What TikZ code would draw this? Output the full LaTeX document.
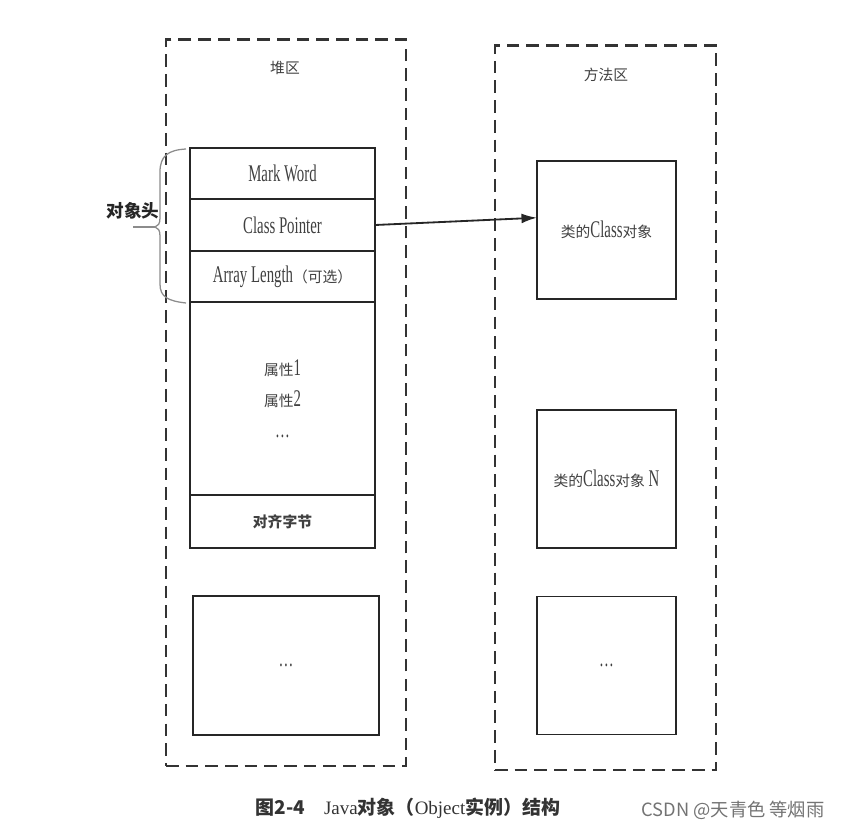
\documentclass[tikz,border=0pt]{standalone}
\usepackage{fontspec}
\setmainfont{Liberation Serif}
\newfontfamily\cjk{Noto Sans CJK SC}
\newfontfamily\narrow[FakeStretch=0.62]{Liberation Serif}
\usetikzlibrary{arrows.meta,positioning}
\newcommand{\zh}[1]{{\fontsize{10.5}{12}\cjk #1}}

\begin{document}
\begin{tikzpicture}[x=0.025cm,y=-0.025cm,
	zone/.style={draw=black!80,line width=2pt,dash pattern=on 9pt off 5pt},
	cell/.style={draw=black!85,line width=1.3pt,minimum width=4.625cm,outer sep=0pt,inner sep=0pt,font=\fontsize{17}{22}\narrow,text=black!75},
	klass/.style={cell,minimum width=3.475cm,minimum height=3.45cm},
	hint/.style={font=\fontsize{10.5}{12}\cjk,text=black!75}]
\useasboundingbox (0,0) rectangle (844,832);
% the two memory areas
\node[zone,minimum width=6cm,minimum height=18.15cm] (heap) at (286,403) {};
\node[zone,minimum width=5.525cm,minimum height=18.1cm] (method) at (605.5,408) {};
\node[hint] (heaplabel) at (285,68) {堆区};
\node[hint] (methodlabel) at (606,75) {方法区};
% object layout
\node[cell,minimum height=1.275cm] (mark) at (282.5,173.5) {Mark Word};
\node[cell,minimum height=1.3cm,below=0pt of mark] (ptr) {Class Pointer};
\node[cell,minimum height=1.275cm,below=0pt of ptr] (alen) {Array Length\zh{（可选）}};
\node[cell,minimum height=4.825cm,below=0pt of alen,align=center] (fields) {\zh{属性}1\\\zh{属性}2\\\ldots};
\node[cell,minimum height=1.325cm,below=0pt of fields,font=\fontsize{10.5}{12}\cjk\bfseries] (pad) {对齐字节};
\node[cell,minimum width=4.65cm,minimum height=3.475cm] (more) at (286,665.5) {\ldots};
% class objects
\node[klass] (cls1) at (606.5,230) {\zh{类的}Class\zh{对象}};
\node[klass] (clsn) at (606.5,479) {\zh{类的}Class\zh{对象} N};
\node[klass] (clsmore) at (606.5,665.5) {\ldots};
% header brace
\coordinate (tip) at (155,227);
\coordinate (hook) at (133,227);
\draw[black!45,line width=0.9pt] (186,149) .. controls (168,150) and (160,156) .. (160,172) -- (160,218)
	.. controls (160,224) and (158,226) .. (tip) .. controls (158,228) and (160,230) .. (160,236)
	-- (160,284) .. controls (160,297) and (168,301) .. (186,303);
\draw[black!45,line width=0.9pt] (tip) -- (hook);
\node[font=\fontsize{12.5}{14}\cjk\bfseries,text=black!85] (objhead) at (133,211) {对象头};
% pointer to class
\draw[-{Latex[length=11pt,width=7pt]},line width=1.3pt,black!85] (ptr.east) -- (cls1.170);
% caption
\node[font=\fontsize{13.5}{16}\selectfont,text=black!80] (caption) at (408,808) {{\cjk\bfseries 图2-4}\quad Java{\cjk\bfseries 对象（}Object{\cjk\bfseries 实例）结构}};
\node[font=\fontsize{13}{15}\cjk,text=black!55] (credit) at (733,810) {CSDN @天青色 等烟雨};
\end{tikzpicture}
\end{document}
